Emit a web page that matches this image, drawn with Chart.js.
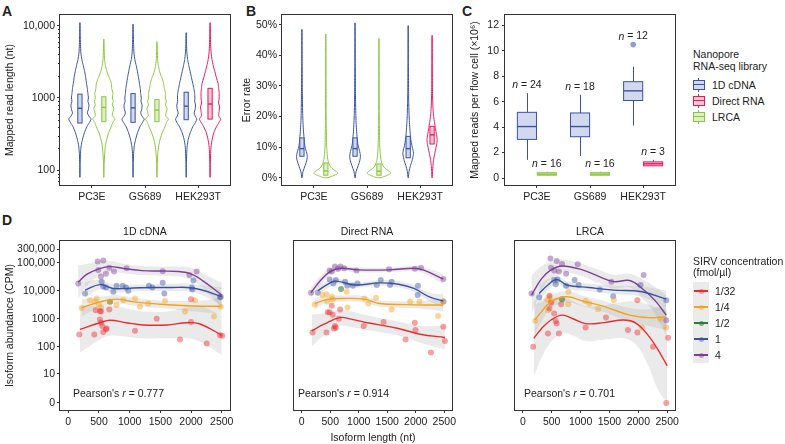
<!DOCTYPE html>
<html>
<head>
<meta charset="utf-8">
<title>Nanopore RNA-seq libraries</title>
<script src="https://cdn.jsdelivr.net/npm/chart.js@4.4.1/dist/chart.umd.min.js"></script>
<style>
  html, body { margin: 0; padding: 0; background: #fff; overflow: hidden; }
  body { position: relative; width: 785px; height: 444px; font-family: "Liberation Sans", Arial, sans-serif; color: #222; }
  canvas { position: absolute; }
  .txt { position: absolute; font-size: 10.5px; line-height: 12px; white-space: nowrap; }
  .ctr { width: 140px; text-align: center; }
  .panel { position: absolute; font-size: 14px; font-weight: bold; line-height: 16px; }
  .key { position: absolute; }
</style>
</head>
<body>
<div class="panel" style="left:2px;top:3px">A</div>
<div class="panel" style="left:246px;top:3px">B</div>
<div class="panel" style="left:462px;top:3px">C</div>
<div class="panel" style="left:2px;top:212px">D</div>

<canvas id="ca"></canvas>
<canvas id="cb"></canvas>
<canvas id="cc"></canvas>
<canvas id="cd1"></canvas>
<canvas id="cd2"></canvas>
<canvas id="cd3"></canvas>

<div class="txt ctr" style="left:75px;top:225px">1D cDNA</div>
<div class="txt ctr" style="left:297px;top:225px">Direct RNA</div>
<div class="txt ctr" style="left:520px;top:225px">LRCA</div>

<div class="txt" style="left:73px;top:387px">Pearson's <i>r</i> = 0.777</div>
<div class="txt" style="left:298px;top:387px">Pearson's <i>r</i> = 0.914</div>
<div class="txt" style="left:524px;top:387px">Pearson's <i>r</i> = 0.701</div>

<div class="txt" style="left:693px;top:48px">Nanopore</div>
<div class="txt" style="left:693px;top:60px">RNA-seq library</div>
<div id="legC"></div>

<div class="txt" style="left:693px;top:255px">SIRV concentration</div>
<div class="txt" style="left:693px;top:266px">(fmol/µl)</div>
<div id="legD"></div>

<script>
const FONT = '"Liberation Sans", Arial, sans-serif';
Chart.defaults.font.family = FONT;
Chart.defaults.font.size = 10.5;
Chart.defaults.color = '#222';

const AXIS = '#333';

// ---- shared categories
const cellLines = ['PC3E', 'GS689', 'HEK293T'];
const libraries = ['1D cDNA', 'Direct RNA', 'LRCA'];
const libColor = ['#3953A4', '#E8185A', '#8CC63F'];
const libFill = ['#D2D9EE', '#F9C6D5', '#DCEEC5'];
const secondLib = [2, 2, 1];   // library drawn right of 1D cDNA in each cell line

// ---- A: mapped read length violins, [length nt, relative half-width]
const aTickVals = [100, 1000, 10000];
const aTickLabels = ['100', '1000', '10,000'];
const aMinorVals = [70, 80, 90, 200, 300, 400, 500, 600, 700, 800, 900, 2000, 3000, 4000, 5000, 6000, 7000, 8000, 9000];

const aCdnaPc3e = [[80,.01],[120,.02],[170,.05],[220,.12],[270,.25],[330,.42],[400,.65],[460,.9],[510,1.05],[560,.85],[620,.7],[700,.8],[800,.85],[900,.75],[1000,.8],[1150,.75],[1350,.7],[1600,.62],[1900,.55],[2300,.45],[2800,.32],[3400,.18],[4200,.09],[5500,.05],[7500,.03],[11000,.01]];
const aLrcaPc3e = [[80,.01],[120,.03],[170,.08],[220,.15],[270,.28],[330,.45],[400,.7],[460,.85],[510,1.05],[570,.8],[640,.85],[720,.95],[800,.8],[900,.9],[1000,.8],[1150,.85],[1350,.75],[1600,.7],[1850,.55],[2000,.45],[2300,.3],[2700,.18],[3300,.08],[4500,.04],[6500,.01]];
const aCdnaGs689 = [[80,.01],[120,.02],[170,.05],[220,.12],[270,.25],[330,.42],[400,.65],[460,.9],[510,1.05],[560,.85],[620,.72],[700,.82],[800,.85],[900,.75],[1000,.78],[1150,.72],[1350,.68],[1600,.6],[1900,.52],[2300,.42],[2800,.3],[3400,.17],[4200,.09],[5500,.05],[7500,.03],[10500,.01]];
const aLrcaGs689 = [[80,.01],[120,.03],[170,.08],[220,.17],[270,.3],[330,.5],[400,.75],[460,.9],[510,1.08],[570,.82],[640,.88],[720,.95],[800,.8],[900,.88],[1000,.78],[1150,.8],[1350,.7],[1600,.62],[1850,.5],[2000,.4],[2300,.26],[2700,.15],[3300,.07],[4500,.03],[6000,.01]];
const aCdnaHek = [[80,.01],[120,.02],[170,.05],[220,.1],[270,.2],[330,.38],[400,.62],[460,.88],[510,1.0],[560,.85],[620,.75],[700,.85],[800,.88],[900,.8],[1000,.82],[1150,.8],[1350,.72],[1600,.62],[1900,.5],[2300,.38],[2800,.25],[3400,.14],[4200,.07],[5500,.03],[8000,.01]];
const aRnaHek = [[80,.01],[120,.02],[170,.05],[220,.1],[270,.2],[330,.35],[400,.6],[460,.85],[510,1.0],[570,.8],[650,.85],[750,.9],[850,.8],[1000,.85],[1200,.85],[1400,.8],[1600,.75],[1900,.6],[2300,.45],[2800,.3],[3400,.18],[4200,.1],[5500,.05],[7500,.03],[11000,.01]];
// inner boxes [q1, median, q3]
const aBoxCdna = [[450, 720, 1130], [460, 730, 1150], [500, 770, 1200]];
const aBoxOther = [[470, 740, 1040], [470, 680, 950], [510, 825, 1360]];

// ---- B: error rate violins, [error %, relative half-width]
const bTickVals = [0, 10, 20, 30, 40, 50];
const bCdnaPc3e = [[0,.02],[1,.05],[2,.1],[3,.2],[4,.3],[5,.4],[6,.48],[7,.5],[8,.46],[9,.38],[10,.3],[11,.25],[12,.22],[13,.2],[15,.15],[18,.1],[21,.07],[25,.05],[30,.035],[38,.02],[48.5,.01]];
const bLrcaPc3e = [[0,.2],[.5,.6],[1,.95],[1.5,1.15],[2,1.0],[2.7,.7],[3.5,.45],[4.5,.3],[6,.18],[8,.12],[10,.08],[13,.06],[17,.04],[22,.03],[30,.02],[40,.015],[47,.01]];
const bCdnaGs689 = [[0,.02],[1,.05],[2,.1],[3,.2],[4,.3],[5,.4],[6,.47],[7,.5],[8,.47],[9,.4],[10,.32],[11,.26],[12,.22],[13,.2],[15,.15],[18,.1],[21,.07],[25,.05],[30,.035],[38,.02],[50.6,.01]];
const bLrcaGs689 = [[0,.2],[.5,.6],[1,.95],[1.5,1.12],[2,1.0],[2.7,.72],[3.5,.45],[4.5,.3],[6,.18],[8,.12],[10,.08],[13,.06],[17,.04],[22,.03],[30,.02],[40,.015],[45.5,.01]];
const bCdnaHek = [[0,.02],[1,.04],[2,.08],[3,.14],[4,.22],[5,.32],[6,.4],[7,.46],[8,.5],[9,.46],[10,.38],[11,.32],[12,.27],[13,.23],[15,.18],[18,.12],[21,.08],[25,.05],[30,.035],[38,.02],[49.7,.01]];
const bRnaHek = [[0,.02],[2,.04],[4,.08],[6,.15],[8,.26],[10,.38],[11.5,.46],[12.5,.48],[14,.42],[16,.32],[18,.23],[20,.15],[22,.1],[25,.06],[30,.03],[38,.02],[46.5,.01]];
const bBoxCdna = [[7, 9.5, 13], [7, 9.5, 13], [6.5, 9.5, 13.5]];
const bBoxOther = [[0.8, 2.2, 4.8], [0.8, 2.1, 4.5], [11, 14, 16.8]];

// ---- C: mapped reads per flow cell (x10^6), [low whisker, q1, median, q3, high whisker]
const cTickVals = [0, 2, 4, 6, 8, 10, 12];
const cCdnaStats = [[1.43, 3.04, 4.05, 5.17, 6.68], [1.74, 3.25, 4.05, 5.12, 6.55], [4.13, 6.1, 6.86, 7.58, 8.75]];
const cOtherStats = [[0.18, 0.22, 0.3, 0.42, 0.5], [0.18, 0.22, 0.3, 0.42, 0.5], [0.93, 0.96, 1.12, 1.27, 1.43]];
const cCdnaN = [24, 18, 12];
const cOtherN = [16, 16, 3];
const cOutlierHek = [10.5];

// ---- D: SIRV isoform abundance vs length
const dLevels = ['1/32', '1/4', '1/2', '1', '4'];
const dColor = ['#EE2A2E', '#F7A21B', '#2E7D32', '#3953A4', '#7D3F98'];
const dDot = ['rgba(238,42,46,0.45)', 'rgba(247,162,27,0.45)', 'rgba(46,125,50,0.6)', 'rgba(57,83,164,0.45)', 'rgba(125,63,152,0.45)'];
const dXTickVals = [0, 500, 1000, 1500, 2000, 2500];
const dYTickVals = [0, 10, 100, 1000, 10000, 100000, 300000];
const dYTickLabels = ['0', '10', '100', '1000', '10,000', '100,000', '300,000'];

// points [length, CPM]; fits [length, fit, lower, upper]
const cdnaRedPts = [[179,275],[424,275],[446,2000],[516,1900],[533,1800],[516,950],[533,720],[554,550],[570,340],[614,420],[625,450],[668,2150],[1087,370],[1440,1000],[1820,180],[2000,5000],[2000,770],[2255,130],[2473,260],[2511,245]];
const cdnaRedFit = [[190,420,60,2800],[516,720,180,2900],[680,880,250,3000],[951,720,230,2300],[1223,600,200,1800],[1603,600,200,1800],[1930,720,200,2500],[2147,650,150,2800],[2500,260,50,1300]];
const cdnaOrangePts = [[217,2400],[353,4600],[435,4000],[462,5300],[500,3300],[533,2500],[680,4000],[788,3100],[897,4600],[1087,5300],[1168,2700],[1304,3500],[1576,4400],[1902,1800],[2065,4600],[2375,1200],[2484,2700]];
const cdnaOrangeFit = [[217,2500,1200,5000],[516,4000,2600,6000],[788,5000,3500,7000],[1060,4000,2900,5600],[1495,3300,2400,4500],[1930,2900,1900,4300],[2200,2800,1700,4500],[2500,2800,1400,5600]];
const cdnaGreenPts = [[680,4000]];
const cdnaBluePts = [[272,8000],[543,21000],[570,14000],[614,13000],[734,9200],[788,15000],[886,15000],[940,13000],[978,10000],[1315,15000],[1370,13000],[1538,19000],[1565,8000],[2011,13000],[2038,23000],[2022,11000],[2473,5800]];
const cdnaBlueFit = [[272,10500,5500,20000],[516,16500,11000,25000],[734,12000,8500,17000],[1060,12500,9500,16500],[1400,13000,10000,17000],[1700,13000,9800,17500],[1930,13000,9500,18000],[2147,11000,7500,16000],[2500,6200,3000,13000]];
const cdnaPurplePts = [[163,18000],[478,110000],[570,120000],[489,55000],[533,32000],[614,40000],[668,66000],[745,48000],[951,63000],[1538,49000],[1973,36000],[2092,48000],[2484,6100]];
const cdnaPurpleFit = [[160,20000,5000,80000],[300,38000,15000,90000],[500,60000,32000,110000],[680,72000,45000,115000],[900,62000,42000,92000],[1200,52000,36000,75000],[1500,50000,34000,72000],[1800,48000,32000,72000],[2000,40000,25000,65000],[2200,22000,12000,40000],[2500,7000,2500,19000]];

const rnaRedPts = [[190,320],[435,320],[457,1700],[489,1700],[527,2900],[543,1400],[565,450],[582,550],[598,480],[674,2150],[652,1000],[1087,550],[1435,770],[1821,180],[1984,720],[1995,400],[2266,62],[2484,520],[2511,160]];
const rnaRedFit = [[174,370,100,1400],[391,640,250,1600],[663,1100,550,2100],[880,950,500,1800],[1152,720,400,1300],[1696,450,250,800],[2076,280,140,550],[2511,215,80,580]];
const rnaOrangePts = [[228,3200],[364,7000],[435,7400],[446,4100],[527,6100],[543,4900],[788,9200],[804,2500],[1098,5300],[1168,3500],[1304,5600],[1576,2150],[1902,4100],[2065,4100],[2391,1250],[2484,4100]];
const rnaOrangeFit = [[228,3500,2200,5500],[446,4900,3700,6500],[717,5300,4100,6800],[1098,5000,3900,6400],[1370,3500,2700,4500],[1804,3200,2400,4200],[2150,3100,2200,4400],[2484,3100,1900,5000]];
const rnaGreenPts = [[690,11500]];
const rnaBluePts = [[283,8500],[489,25000],[554,18000],[598,24000],[761,21000],[799,15000],[897,15000],[978,18000],[1315,16000],[1386,24000],[1549,16000],[1576,21000],[2038,15000],[2033,7000],[2484,4100]];
const rnaBlueFit = [[283,10000,6500,15000],[500,19000,14000,25000],[609,22000,17000,28000],[935,16000,13000,20000],[1370,19000,15000,24000],[1696,17000,13000,22000],[1967,12000,9000,16000],[2239,6000,4200,8500],[2484,4300,2500,7500]];
const rnaPurplePts = [[163,8500],[489,52000],[527,48000],[582,72000],[636,60000],[679,72000],[745,63000],[962,52000],[1533,58000],[1984,60000],[2092,66000],[2484,26000]];
const rnaPurpleFit = [[163,8500,5500,13000],[337,24000,16000,35000],[500,48000,36000,62000],[690,63000,50000,78000],[989,55000,45000,67000],[1533,55000,45000,67000],[1967,63000,50000,78000],[2130,55000,43000,70000],[2484,26000,17000,40000]];

const lrcaRedPts = [[179,100],[435,300],[462,6600],[462,2300],[489,3700],[543,1550],[570,830],[587,680],[625,300],[663,3300],[1087,490],[1440,1100],[1821,400],[1984,4600],[1984,320],[2255,100],[2516,210],[2484,0]];
const lrcaRedFit = [[190,200,8,4500],[326,450,40,5000],[489,900,150,5500],[680,1350,300,6000],[870,1000,250,4200],[1087,670,160,2800],[1413,730,180,3000],[1739,900,200,4000],[1957,700,120,4200],[2174,250,20,3200],[2337,80,2,2500],[2500,20,0,2000]];
const lrcaOrangePts = [[217,850],[424,4900],[462,6100],[500,4100],[435,2000],[788,3300],[788,9200],[1087,4300],[1152,3500],[1304,2200],[1576,4600],[2065,490],[2380,980],[2484,490]];
const lrcaOrangeFit = [[207,900,250,3200],[326,1800,800,4000],[489,4100,2400,7000],[761,6100,3800,9500],[1033,4300,2800,6600],[1413,2700,1700,4300],[1848,1350,750,2400],[2174,1100,550,2200],[2484,1150,400,3300]];
const lrcaGreenPts = [[680,5000]];
const lrcaBluePts = [[283,5800],[543,24000],[570,17000],[598,25000],[750,15000],[897,24000],[967,16000],[1332,11000],[1565,6400],[2038,16000],[2484,4600]];
const lrcaBlueFit = [[283,8000,4000,16000],[435,16000,10000,26000],[587,25000,17000,36000],[761,16000,11500,22000],[1141,13000,9500,18000],[1576,10500,7500,15000],[2065,9200,6000,14000],[2484,5000,2500,10000]];
const lrcaPurplePts = [[152,8000],[478,140000],[489,66000],[543,52000],[587,115000],[625,48000],[680,90000],[750,40000],[951,87000],[1533,21000],[2092,36000],[2484,890]];
const lrcaPurpleFit = [[152,7000,1500,35000],[326,27000,10000,75000],[489,55000,28000,110000],[680,76000,45000,130000],[1033,55000,33000,90000],[1304,33000,19000,57000],[1576,21000,12000,37000],[1848,23000,13000,40000],[2065,12000,5500,26000],[2283,4600,1500,14000],[2484,1350,250,7000]];

// ---- helpers
const DODGE = 0.225, VW = 0.2, BOXDODGE = 0.1875;
const L = v => Math.log10(v + 1);

function place(id, x, y, w, h) {
  const c = document.getElementById(id);
  c.width = w; c.height = h;
  c.style.left = x + 'px'; c.style.top = y + 'px';
  c.style.width = w + 'px'; c.style.height = h + 'px';
  return c;
}

const frame = {
  id: 'frame',
  afterDatasetsDraw(chart) {
    const a = chart.chartArea, ctx = chart.ctx;
    ctx.save();
    ctx.strokeStyle = AXIS; ctx.lineWidth = 1;
    ctx.strokeRect(Math.round(a.left) - 0.5, Math.round(a.top) - 0.5, Math.round(a.right - a.left) + 1, Math.round(a.bottom - a.top) + 1);
    ctx.restore();
  }
};

function build(id, rect, box, datasets, scales, extra) {
  const [cx, cy, cw, ch] = rect;
  const c = place(id, cx, cy, cw, ch);
  const hasY = scales.y.display !== false;
  scales.y.afterFit = s => { s.width = box.l - cx; };
  scales.x.afterFit = s => { s.height = cy + ch - box.b; };
  return new Chart(c, {
    type: 'line',
    data: { datasets: datasets },
    options: {
      responsive: false, animation: false, events: [],
      layout: { padding: { top: box.t - cy, right: cx + cw - box.r, bottom: 0, left: hasY ? 0 : box.l - cx } },
      plugins: { legend: { display: false }, tooltip: { enabled: false } },
      scales: scales
    },
    plugins: [frame].concat(extra || [])
  });
}

function catAxis() {
  return {
    type: 'linear', min: 0.4, max: 3.6,
    afterBuildTicks: s => { s.ticks = cellLines.map((c, i) => ({ value: i + 1 })); },
    ticks: { callback: (v, i) => cellLines[i], padding: 3 },
    grid: { drawOnChartArea: false, tickLength: 3, color: AXIS },
    border: { display: false }
  };
}

function yTitle(text) {
  return { display: true, text: text, font: { size: 10.5 }, padding: { top: 4, bottom: 4 } };
}

function violin(profile, xc, color) {
  const right = profile.map(p => ({ x: xc + p[1] * VW, y: p[0] }));
  const left = profile.slice().reverse().map(p => ({ x: xc - p[1] * VW, y: p[0] }));
  return { data: right.concat(left, [right[0]]), borderColor: color, borderWidth: 1, pointRadius: 0, fill: false, tension: 0.2 };
}

function violinSets(pairs) {
  const ds = [];
  pairs.forEach((p, i) => {
    ds.push(violin(p[0], i + 1 - DODGE, libColor[0]));
    ds.push(violin(p[1], i + 1 + DODGE, libColor[secondLib[i]]));
  });
  return ds;
}

function boxItems(cdna, other, dodge) {
  const out = [];
  cdna.forEach((q, i) => out.push({ x: i + 1 - dodge, q: q, lib: 0 }));
  other.forEach((q, i) => out.push({ x: i + 1 + dodge, q: q, lib: secondLib[i] }));
  return out;
}

function boxPlugin(items, width) {
  return {
    id: 'boxes',
    afterDatasetsDraw(chart) {
      const xs = chart.scales.x, ys = chart.scales.y, ctx = chart.ctx;
      ctx.save();
      items.forEach(b => {
        const five = b.q.length === 5;
        const q = five ? b.q : [null].concat(b.q, [null]);
        const x0 = xs.getPixelForValue(b.x - width / 2), x1 = xs.getPixelForValue(b.x + width / 2);
        const xc = Math.round(xs.getPixelForValue(b.x)) + 0.5;
        ctx.strokeStyle = libColor[b.lib];
        ctx.lineWidth = 1;
        if (five) {
          ctx.beginPath();
          ctx.moveTo(xc, ys.getPixelForValue(q[0])); ctx.lineTo(xc, ys.getPixelForValue(q[1]));
          ctx.moveTo(xc, ys.getPixelForValue(q[3])); ctx.lineTo(xc, ys.getPixelForValue(q[4]));
          ctx.stroke();
        }
        const yt = ys.getPixelForValue(q[3]), yb = ys.getPixelForValue(q[1]);
        ctx.fillStyle = libFill[b.lib];
        ctx.fillRect(x0, yt, x1 - x0, yb - yt);
        ctx.strokeRect(x0, yt, x1 - x0, yb - yt);
        const ym = ys.getPixelForValue(q[2]);
        ctx.lineWidth = 1.4;
        ctx.beginPath(); ctx.moveTo(x0, ym); ctx.lineTo(x1, ym); ctx.stroke();
      });
      ctx.restore();
    }
  };
}

const minorTicks = {
  id: 'minorTicks',
  afterDraw(chart) {
    const ys = chart.scales.y, x = chart.chartArea.left, ctx = chart.ctx;
    ctx.save(); ctx.strokeStyle = AXIS; ctx.lineWidth = 1; ctx.beginPath();
    aMinorVals.forEach(v => {
      const y = Math.round(ys.getPixelForValue(v)) + 0.5;
      ctx.moveTo(x - 2, y); ctx.lineTo(x, y);
    });
    ctx.stroke(); ctx.restore();
  }
};

function nLabels(items) {
  return {
    id: 'nLabels',
    afterDatasetsDraw(chart) {
      const xs = chart.scales.x, ys = chart.scales.y, ctx = chart.ctx;
      const fi = 'italic 10.5px ' + FONT, fn = '10.5px ' + FONT;
      ctx.save();
      ctx.fillStyle = '#222'; ctx.textBaseline = 'middle'; ctx.textAlign = 'left';
      items.forEach(it => {
        const x = xs.getPixelForValue(it.x), y = ys.getPixelForValue(it.top) - 8;
        const rest = ' = ' + it.n;
        ctx.font = fi; const wa = ctx.measureText('n').width;
        ctx.font = fn; const wb = ctx.measureText(rest).width;
        const x0 = x - (wa + wb) / 2;
        ctx.font = fi; ctx.fillText('n', x0, y);
        ctx.font = fn; ctx.fillText(rest, x0 + wa, y);
      });
      ctx.restore();
    }
  };
}

// ---- A
build('ca', [0, 0, 250, 215], { l: 60, t: 15, r: 230, b: 185 },
  violinSets([[aCdnaPc3e, aLrcaPc3e], [aCdnaGs689, aLrcaGs689], [aCdnaHek, aRnaHek]]),
  {
    x: catAxis(),
    y: {
      type: 'logarithmic', min: 62.5, max: 14060,
      afterBuildTicks: s => { s.ticks = aTickVals.map(v => ({ value: v })); },
      ticks: { callback: (v, i) => aTickLabels[i], padding: 2 },
      grid: { drawOnChartArea: false, tickLength: 3, color: AXIS },
      border: { display: false },
      title: yTitle('Mapped read length (nt)')
    }
  },
  [boxPlugin(boxItems(aBoxCdna, aBoxOther, DODGE), 0.08), minorTicks]);

// ---- B
build('cb', [237, 0, 235, 215], { l: 282, t: 15, r: 452, b: 185 },
  violinSets([[bCdnaPc3e, bLrcaPc3e], [bCdnaGs689, bLrcaGs689], [bCdnaHek, bRnaHek]]),
  {
    x: catAxis(),
    y: {
      type: 'linear', min: -2.4, max: 53.2,
      afterBuildTicks: s => { s.ticks = bTickVals.map(v => ({ value: v })); },
      ticks: { callback: v => v + '%', padding: 2 },
      grid: { drawOnChartArea: false, tickLength: 3, color: AXIS },
      border: { display: false },
      title: yTitle('Error rate')
    }
  },
  [boxPlugin(boxItems(bBoxCdna, bBoxOther, DODGE), 0.08)]);

// ---- C
const cItems = boxItems(cCdnaStats, cOtherStats, BOXDODGE);
const cN = [];
cCdnaStats.forEach((s, i) => cN.push({ x: i + 1 - BOXDODGE, top: i === 2 ? Math.max(s[4], cOutlierHek[0]) : s[4], n: cCdnaN[i] }));
cOtherStats.forEach((s, i) => cN.push({ x: i + 1 + BOXDODGE, top: s[4], n: cOtherN[i] }));

build('cc', [465, 0, 225, 215], { l: 505, t: 15, r: 675, b: 185 },
  [{ data: cOutlierHek.map(v => ({ x: 3 - BOXDODGE, y: v })), showLine: false, pointRadius: 2.8, pointBorderWidth: 0,
     pointBorderColor: 'rgba(0,0,0,0)', pointBackgroundColor: '#8E9ED4' }],
  {
    x: catAxis(),
    y: {
      type: 'linear', min: -0.55, max: 12.83,
      afterBuildTicks: s => { s.ticks = cTickVals.map(v => ({ value: v })); },
      ticks: { padding: 3 },
      grid: { drawOnChartArea: false, tickLength: 3, color: AXIS },
      border: { display: false },
      title: yTitle('Mapped reads per flow cell (×10⁶)')
    }
  },
  [boxPlugin(cItems, 0.36), nLabels(cN)]);

// ---- D
const BAND = 'rgba(160,160,160,0.22)';
const NONE = 'rgba(0,0,0,0)';

function dDatasets(pts, fits) {
  const ds = [];
  fits.forEach(f => {
    if (!f) return;
    ds.push({ data: f.map(r => ({ x: r[0], y: L(r[2]) })), borderColor: NONE, borderWidth: 0, pointRadius: 0, fill: false, tension: 0.4, order: 3 });
    ds.push({ data: f.map(r => ({ x: r[0], y: L(r[3]) })), borderColor: NONE, borderWidth: 0, pointRadius: 0, fill: '-1', backgroundColor: BAND, tension: 0.4, order: 3 });
  });
  pts.forEach((p, k) => ds.push({ data: p.map(r => ({ x: r[0], y: L(r[1]) })), showLine: false, pointRadius: 3,
    pointBorderWidth: 0, pointBorderColor: NONE, pointBackgroundColor: dDot[k], order: 2 }));
  fits.forEach((f, k) => {
    if (!f) return;
    ds.push({ data: f.map(r => ({ x: r[0], y: L(r[1]) })), borderColor: dColor[k], borderWidth: 1.4, pointRadius: 0, fill: false, tension: 0.4, order: 1 });
  });
  return ds;
}

function dChart(id, rect, box, pts, fits, showY, xTitle) {
  return build(id, rect, box, dDatasets(pts, fits), {
    x: {
      type: 'linear', min: -135, max: 2635,
      afterBuildTicks: s => { s.ticks = dXTickVals.map(v => ({ value: v })); },
      ticks: { callback: v => String(v), padding: 3 },
      grid: { drawOnChartArea: false, tickLength: 3, color: AXIS },
      border: { display: false },
      title: { display: !!xTitle, text: xTitle || '', font: { size: 10.5 }, padding: { top: 0, bottom: 0 } }
    },
    y: {
      type: 'linear', min: -0.25, max: 5.77, display: showY,
      afterBuildTicks: s => { s.ticks = dYTickVals.map(v => ({ value: L(v) })); },
      ticks: { callback: (v, i) => dYTickLabels[i], padding: 2 },
      grid: { drawOnChartArea: false, tickLength: 3, color: AXIS },
      border: { display: false },
      title: yTitle('Isoform abundance (CPM)')
    }
  });
}

dChart('cd1', [0, 230, 250, 214], { l: 60, t: 241, r: 230, b: 410 },
  [cdnaRedPts, cdnaOrangePts, cdnaGreenPts, cdnaBluePts, cdnaPurplePts],
  [cdnaRedFit, cdnaOrangeFit, null, cdnaBlueFit, cdnaPurpleFit], true, null);
dChart('cd2', [270, 230, 200, 214], { l: 282, t: 241, r: 452, b: 410 },
  [rnaRedPts, rnaOrangePts, rnaGreenPts, rnaBluePts, rnaPurplePts],
  [rnaRedFit, rnaOrangeFit, null, rnaBlueFit, rnaPurpleFit], false, 'Isoform length (nt)');
dChart('cd3', [495, 230, 200, 214], { l: 505, t: 241, r: 675, b: 410 },
  [lrcaRedPts, lrcaOrangePts, lrcaGreenPts, lrcaBluePts, lrcaPurplePts],
  [lrcaRedFit, lrcaOrangeFit, null, lrcaBlueFit, lrcaPurpleFit], false, null);

// ---- legends
const legC = document.getElementById('legC');
libraries.forEach((name, i) => {
  const yc = 85 + i * 16;
  legC.insertAdjacentHTML('beforeend',
    `<div class="key" style="left:698px;top:${yc - 7}px;width:1px;height:14px;background:${libColor[i]}"></div>` +
    `<div class="key" style="left:693px;top:${yc - 5}px;width:10px;height:8px;border:1px solid ${libColor[i]};background:${libFill[i]}"></div>` +
    `<div class="key" style="left:693px;top:${yc - 1}px;width:12px;height:1.4px;background:${libColor[i]}"></div>` +
    `<div class="txt" style="left:712px;top:${yc - 6}px">${name}</div>`);
});

const legD = document.getElementById('legD');
legD.insertAdjacentHTML('beforeend', '<div class="key" style="left:693px;top:282px;width:16px;height:81px;background:#EBEBEB"></div>');
dLevels.forEach((name, i) => {
  const yc = 291 + i * 16;
  legD.insertAdjacentHTML('beforeend',
    `<div class="key" style="left:694px;top:${yc - 0.7}px;width:14px;height:1.4px;background:${dColor[i]}"></div>` +
    `<div class="key" style="left:699px;top:${yc - 2.5}px;width:5px;height:5px;border-radius:50%;background:${dDot[i]}"></div>` +
    `<div class="txt" style="left:715px;top:${yc - 6}px">${name}</div>`);
});
</script>
</body>
</html>
